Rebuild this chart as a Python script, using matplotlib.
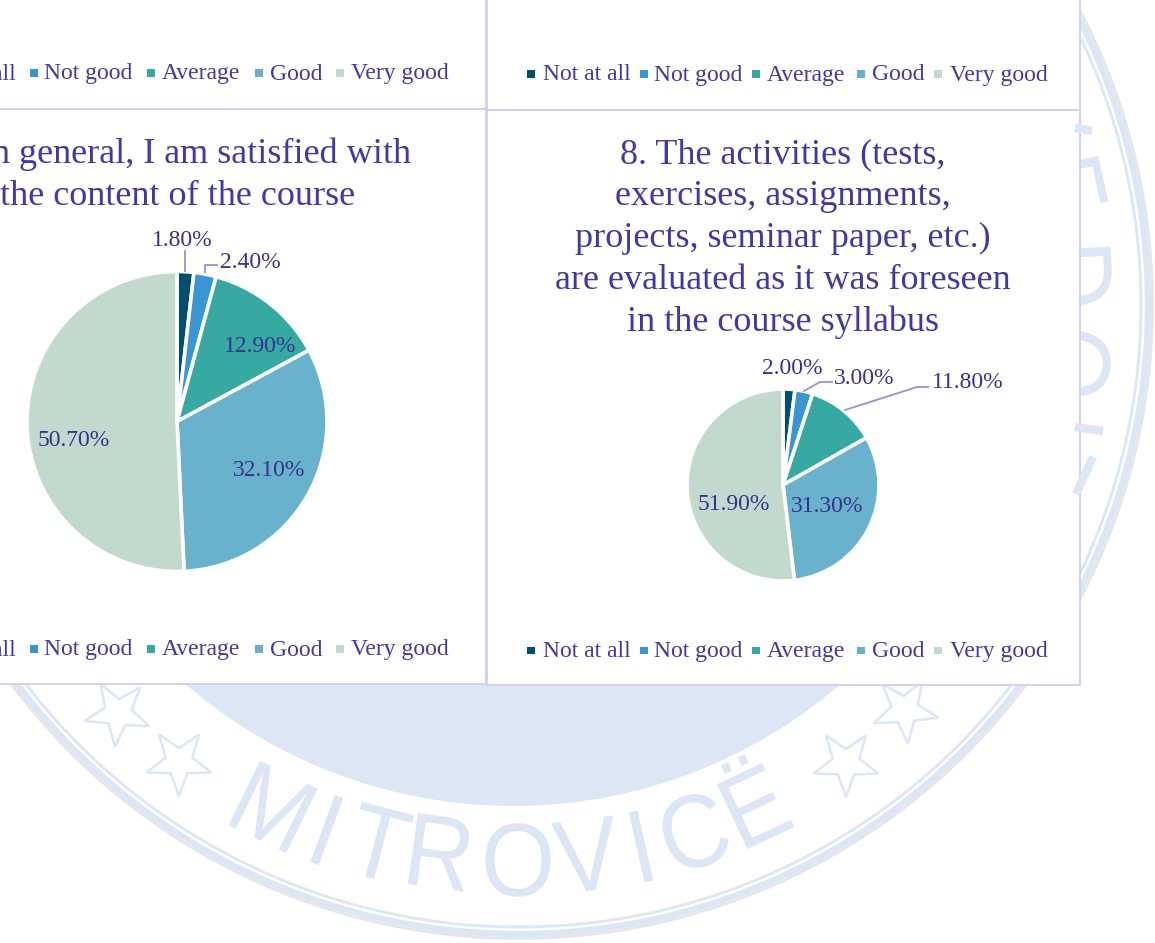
import numpy as np
import matplotlib
matplotlib.use('Agg')
import matplotlib.pyplot as plt
from matplotlib.font_manager import FontProperties
from matplotlib.patches import Circle, PathPatch, Polygon, Rectangle
from matplotlib.textpath import TextPath
from matplotlib.transforms import Affine2D

# 1. The data
categories = ['Not at all', 'Not good', 'Average', 'Good', 'Very good']
values_left = [1.8, 2.4, 12.9, 32.1, 50.7]
values_right = [2.0, 3.0, 11.8, 31.3, 51.9]
labels_left = ['1.80%', '2.40%', '12.90%', '32.10%', '50.70%']
labels_right = ['2.00%', '3.00%', '11.80%', '31.30%', '51.90%']
title_left = ['7. In general, I am satisfied with', 'the content of the course']
title_right = ['8. The activities (tests,', 'exercises, assignments,',
               'projects, seminar paper, etc.)', 'are evaluated as it was foreseen',
               'in the course syllabus']

# 2. Colours and sizes
colors = ['#004E70', '#3A96D2', '#36AAA2', '#68B2CD', '#C2D9CD']
title_color = '#4038A8'
label_color = '#39308F'
border_color = '#D4CFF0'
leader_color = '#9B8FDC'
mark_color = '#DCE6F5'
W, H = 1155, 943
serif = 'Liberation Serif'

fig = plt.figure(figsize=(W / 100, H / 100), dpi=100)

# background axes works in image pixels, y going down
bg = fig.add_axes([0, 0, 1, 1], zorder=0)
bg.set_xlim(0, W)
bg.set_ylim(H, 0)
bg.axis('off')


# 3. The watermark stamp behind the panels
cx, cy = 519, 305
bg.add_patch(Circle((cx, cy), 633.5, fill=False, ec='#E4E6EA', lw=2))
bg.add_patch(Circle((cx, cy), 629, fill=False, ec=mark_color, lw=4.5))
bg.add_patch(Circle((cx, cy), 622, fill=False, ec=mark_color, lw=2))
bg.add_patch(Circle((513, cy), 501, fc=mark_color, ec='none'))


def stamp_letter(ch, x, y, rot, xscale=0.92, size=104):
    path = TextPath((0, 0), ch, size=size, prop=FontProperties(family='Liberation Sans'))
    box = path.get_extents()
    tr = (Affine2D().translate(-(box.x0 + box.x1) / 2, -(box.y0 + box.y1) / 2)
          .scale(xscale, -1).rotate_deg(rot).translate(x, y))
    bg.add_patch(PathPatch(tr.transform_path(path), fc=mark_color, ec='none'))


# bottom text, tops of the letters towards the centre
for ch, a, r in zip('MITROVICË', [-26.1, -20.1, -14.6, -8.1, -0.1, 7.0, 12.7, 18.4, 25.3],
                    [559, 559, 556, 553, 555, 554, 555, 555, 546]):
    stamp_letter(ch, cx + r * np.sin(np.radians(a)), cy + r * np.cos(np.radians(a)), -a)

# right hand text, tops of the letters outwards, only the ends stick out of the panel
for ch, a, r in zip('FDO', [-12.2, -2.9, 6], [562, 558, 558]):
    stamp_letter(ch, cx + r * np.cos(np.radians(a)), cy + r * np.sin(np.radians(a)), 90 + a)
for xs, ys in [([1075, 1092], [128, 131]), ([1075, 1103], [427, 431]), ([1076, 1093], [494, 457])]:
    bg.plot(xs, ys, color=mark_color, lw=6, solid_capstyle='butt')

# stars
for sx, sy, rot in [(118, 713, 5), (179, 762, 0), (905, 710, -5), (846, 763, 0)]:
    angles = np.radians(np.arange(10) * 36 + 90 + rot)
    radii = np.where(np.arange(10) % 2 == 0, 34, 14)
    points = np.column_stack([sx + radii * np.cos(angles), sy + radii * np.sin(angles)])
    bg.add_patch(Polygon(points, closed=True, fill=False, ec=mark_color, lw=1.8))

# 4. The white panels
for x0, y0, x1, y1 in [(-5, -5, 486, 109), (487, -5, 1080, 110),
                       (-5, 109, 486, 684), (487, 110, 1080, 685)]:
    bg.add_patch(Rectangle((x0, y0), x1 - x0, y1 - y0, fc='white', ec=border_color, lw=1.4))


# 5. The pies
def draw_pie(values, pie_x, pie_y, R):
    ax = fig.add_axes([(pie_x - R) / W, 1 - (pie_y + R) / H, 2 * R / W, 2 * R / H], zorder=1)
    ax.pie(values, colors=colors, startangle=90, counterclock=False, radius=1,
           wedgeprops={'edgecolor': 'white', 'linewidth': 2.6, 'clip_on': False})
    ax.set_xlim(-1, 1)
    ax.set_ylim(-1, 1)


draw_pie(values_left, 177, 421.5, 150)
draw_pie(values_right, 783, 485, 96)

# overlay for the text and leader lines
top = fig.add_axes([0, 0, 1, 1], zorder=2)
top.set_xlim(0, W)
top.set_ylim(H, 0)
top.axis('off')
top.patch.set_alpha(0)

# 6. Titles, on baselines so the line gaps stay even
for i, line in enumerate(title_left):
    top.text(178, 163 + i * 42, line, ha='center', va='baseline', family=serif,
             fontsize=26, color=title_color)
for i, line in enumerate(title_right):
    top.text(783, 163 + i * 42, line, ha='center', va='baseline', family=serif,
             fontsize=26, color=title_color)

# 7. Data labels
for text, x, y in zip(labels_left, [182, 250, 260, 269, 74], [240, 263, 346, 471, 441]):
    top.text(x, y, text, ha='center', va='center', family=serif, fontsize=17, color=label_color)
for text, x, y in zip(labels_right, [792, 864, 968, 827, 734], [368, 378, 383, 506, 504]):
    top.text(x, y, text, ha='center', va='center', family=serif, fontsize=17, color=label_color)

# 8. Leader lines
for xs, ys in [([185, 185], [251, 271]),
               ([205, 205, 217], [272, 265, 265]),
               ([804, 820, 832], [391, 382, 382]),
               ([845, 917, 928], [410, 387, 387])]:
    top.plot(xs, ys, color=leader_color, lw=1.3, solid_joinstyle='miter')

# 9. Legends, baseline shared so the words sit level
square_x_left = [-87, 30, 147, 255, 336]
text_x_left = [-72, 44, 162, 270, 351]
square_x_right = [527, 640, 752, 857, 934]
text_x_right = [543, 654, 767, 872, 950]
for square_x, text_x, base_y in [(square_x_left, text_x_left, 79.5),
                                 (square_x_right, text_x_right, 80.5),
                                 (square_x_left, text_x_left, 655.5),
                                 (square_x_right, text_x_right, 657)]:
    for name, color, sx, tx in zip(categories, colors, square_x, text_x):
        top.add_patch(Rectangle((sx, base_y - 10.5), 7.5, 7.5, fc=color, ec='none'))
        top.text(tx, base_y, name, ha='left', va='baseline', family=serif,
                 fontsize=17, color=title_color)

fig.savefig('out.png', dpi=100, facecolor='white')
